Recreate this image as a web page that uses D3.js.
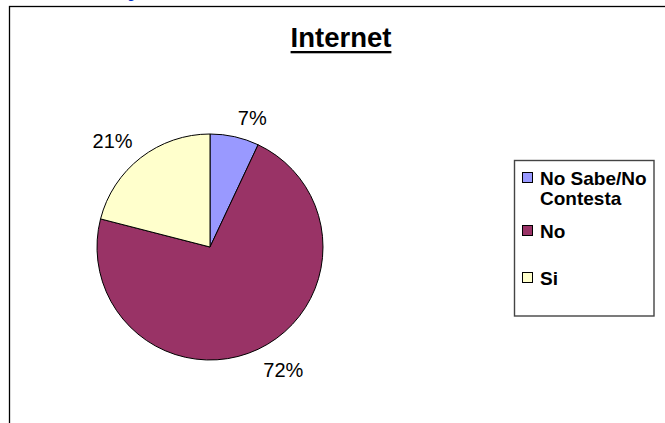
<!DOCTYPE html>
<html>
<head>
<meta charset="utf-8">
<script src="https://cdn.jsdelivr.net/npm/d3@7"></script>
<style>
  html, body { margin: 0; padding: 0; background: #fff; }
  svg { display: block; }
  text { font-family: "Liberation Sans", Arial, sans-serif; }
</style>
</head>
<body>
<svg id="chart" width="665" height="423"></svg>
<script>
// ---- data ----
const title = "Internet";
const categories = ["No Sabe/No Contesta", "No", "Si"];
const legendLines = [["No Sabe/No", "Contesta"], ["No"], ["Si"]];
const values = [7, 72, 21];
const colors = ["#9999FF", "#993366", "#FFFFCC"];

const W = 665, H = 423;
const svg = d3.select("#chart");

// cut-off heading text above the frame
svg.append("text")
  .attr("x", 127).attr("y", -2)
  .attr("fill", "#0033CC")
  .attr("font-size", 15)
  .text("g");

// outer chart frame
svg.append("rect")
  .attr("x", 9.5).attr("y", 6.5)
  .attr("width", W + 20).attr("height", H + 20)
  .attr("fill", "#fff")
  .attr("stroke", "#000").attr("stroke-width", 1.3);

// title
const t = svg.append("text")
  .attr("x", 341).attr("y", 47)
  .attr("text-anchor", "middle")
  .attr("font-size", 27.5).attr("font-weight", "bold")
  .attr("fill", "#000")
  .text(title);
const tb = t.node().getBBox();
svg.append("rect")
  .attr("x", tb.x).attr("y", 51)
  .attr("width", tb.width).attr("height", 2.3)
  .attr("fill", "#000");

// pie
const cx = 210, cy = 247, r = 113;
const pie = d3.pie().sort(null).value(d => d.v);
const arcs = pie(values.map((v, i) => ({v, i})));
const arc = d3.arc().innerRadius(0).outerRadius(r);
const g = svg.append("g").attr("transform", `translate(${cx},${cy})`);
g.selectAll("path").data(arcs).join("path")
  .attr("d", arc)
  .attr("fill", d => colors[d.data.i])
  .attr("stroke", "#000").attr("stroke-width", 1);

// labels
const total = d3.sum(values);
const R = r + 10;
g.selectAll("text.lbl").data(arcs).join("text")
  .attr("class", "lbl")
  .each(function(d) {
    const a = (d.startAngle + d.endAngle) / 2;
    const px = R * Math.sin(a), py = -R * Math.cos(a);
    const sel = d3.select(this);
    sel.attr("x", px + (Math.sin(a) > 0 ? 1 : -2))
       .attr("y", Math.cos(a) > 0 ? py - 2 : py + 19)
       .attr("text-anchor", Math.sin(a) > 0 ? "start" : "end");
  })
  .attr("font-size", 20)
  .attr("fill", "#000")
  .text(d => Math.round(d.data.v / total * 100) + "%");

// legend
const lx = 514.5, ly = 160.5, lw = 139.5, lh = 155.5;
svg.append("rect")
  .attr("x", lx).attr("y", ly).attr("width", lw).attr("height", lh)
  .attr("fill", "#fff").attr("stroke", "#444").attr("stroke-width", 1.4);
const rowOffsets = [0, 53, 100];
const lg = svg.append("g");
categories.forEach((c, i) => {
  const y0 = 172 + rowOffsets[i];
  lg.append("rect")
    .attr("x", 522.5).attr("y", y0 + 0.5).attr("width", 10).attr("height", 10)
    .attr("fill", colors[i]).attr("stroke", "#000").attr("stroke-width", 1);
  legendLines[i].forEach((ln, j) => {
    lg.append("text")
      .attr("x", 540).attr("y", y0 + 13 + j * 20)
      .attr("font-size", 19).attr("font-weight", "bold")
      .attr("fill", "#000")
      .text(ln);
  });
});
</script>
</body>
</html>
